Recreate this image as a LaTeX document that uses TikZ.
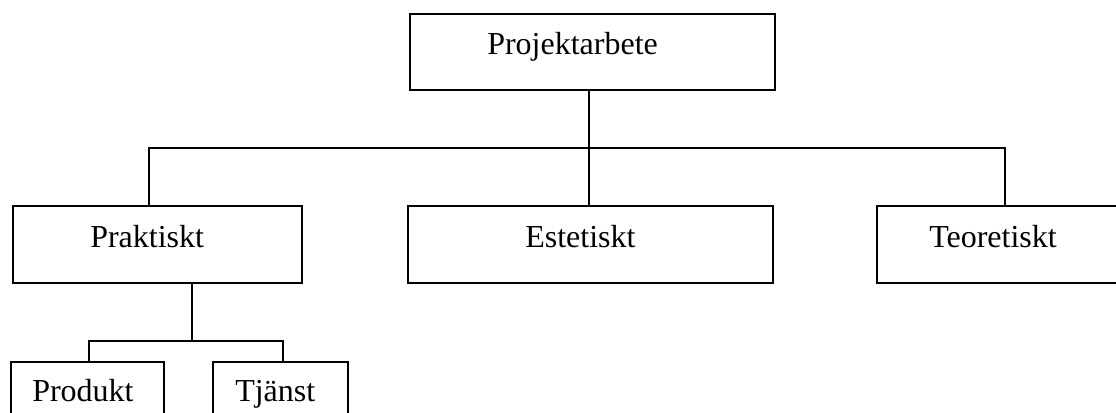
\documentclass[tikz,border=0pt]{standalone}
\usepackage{fontspec}
\setmainfont{Liberation Serif}
\usetikzlibrary{fit}
\begin{document}
\begin{tikzpicture}[x=0.75pt,y=-0.75pt,
  box/.style={draw, line width=1.3pt, inner sep=0pt},
  conn/.style={line width=1.3pt},
  lbl/.style={anchor=base west, inner sep=0pt, font=\fontsize{24}{28}\selectfont}]
\useasboundingbox (0,0) rectangle (1116,412);
\clip (0,0) rectangle (1116,412);
\node[box, fit={(410,14) (775,90)}] (top) {};
\node[box, fit={(13,206) (302,283)}] (prak) {};
\node[box, fit={(408,206) (773,283)}] (este) {};
\node[box, fit={(877,206) (1130,283)}] (teor) {};
\node[box, fit={(11,362) (164,430)}] (prod) {};
\node[box, fit={(213,362) (348,430)}] (tjan) {};
\node[lbl] (ltop) at (487,54) {Projektarbete};
\node[lbl] (lprak) at (90,247) {Praktiskt};
\node[lbl] (leste) at (525,247) {Estetiskt};
\node[lbl] (lteor) at (929,247) {Teoretiskt};
\node[lbl] (lprod) at (32,401) {Produkt};
\node[lbl] (ltjan) at (235,401) {Tjänst};
\coordinate (xm) at (589,148);
\coordinate (xl) at (149,148);
\coordinate (xr) at (1005,148);
\coordinate (xs) at (192,341);
\coordinate (pa) at (89,341);
\coordinate (pb) at (283,341);
\draw[conn] (top.south -| xm) -- (este.north -| xm);
\draw[conn] (prak.north -| xl) -- (xl) -- (xr) -- (teor.north -| xr);
\draw[conn] (prak.south -| xs) -- (xs);
\draw[conn] (prod.north -| pa) -- (pa) -- (pb) -- (tjan.north -| pb);
\end{tikzpicture}
\end{document}
